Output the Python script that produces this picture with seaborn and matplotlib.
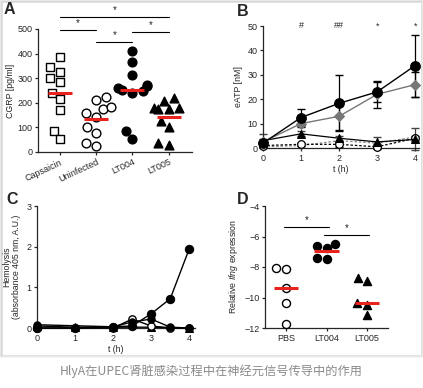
import numpy as np
import pandas as pd
import matplotlib
matplotlib.use("Agg")
import matplotlib.pyplot as plt
import seaborn as sns
from matplotlib.patches import Rectangle

# ---------------- data ----------------
# Panel A
a_groups = ["Capsaicin", "Uninfected", "LT004", "LT005"]
a_capsaicin = [385, 327, 347, 300, 283, 241, 215, 171, 87, 53]
a_uninfected = [211, 175, 184, 225, 144, 160, 79, 101, 24, 38]
a_lt004 = [412, 367, 314, 272, 268, 259, 252, 249, 241, 87, 53]
a_lt005 = [209, 218, 178, 173, 173, 180, 101, 128, 28, 35]
a_center = [241, 134, 252, 143]
a_sig = [("Capsaicin", "LT005", 549), ("Capsaicin", "Uninfected", 496),
         ("Uninfected", "LT004", 447), ("LT004", "LT005", 488)]

# Panel B
b_t = [0, 1, 2, 3, 4]
b_lt004 = [2, 12.5, 18.3, 23, 33.8]
b_lt004_err = [1, 3.3, 11.5, 4, 12.7]
b_gray = [2.5, 10, 13, 22, 26]
b_gray_err = [1, 1.5, 5.5, 5.5, 5]
b_tri = [3, 5.8, 4, 2.5, 3.5]
b_tri_err = [2.8, 1, 1, 2, 4.5]
b_open = [1, 1.5, 1.5, 0.5, 4]
b_open_err = [0.5, 0.5, 1, 1, 1]
b_dash2 = [0.5, 1, 3, 2, 4.5]
b_marks = ["", "#", "##", "*", "*"]

# Panel C
c_t = [0, 1, 2, 2.5, 3, 3.5, 4]
c_lt004 = [0, 0, 0.03, 0.05, 0.35, 0.72, 1.95]
c_other_t = [0, 2, 2.5, 3, 3.5, 4]
c_other = [0.08, 0.03, 0.15, 0.22, 0.02, 0]
c_open_t = [0, 2, 2.5, 3, 3.5, 4]
c_open = [0, 0, 0.22, 0.05, 0, 0]
c_tri_t = [0, 1, 2, 3, 4]
c_tri = [0.05, 0.02, 0.02, 0.02, 0]

# Panel D
d_groups = ["PBS", "LT004", "LT005"]
d_pbs = [-8.11, -8.07, -9.36, -10.38, -11.72]
d_lt004 = [-6.47, -6.75, -6.62, -7.50, -7.41]
d_lt005 = [-8.94, -8.72, -10.51, -10.34, -11.17]
d_center = [-9.35, -6.97, -10.34]
d_sig = [("PBS", "LT004", -5.40), ("LT004", "LT005", -5.92)]

caption = "HlyA在UPEC肾脏感染过程中在神经元信号传导中的作用"

# ---------------- style ----------------
sns.set_style("ticks")
plt.rcParams["font.family"] = ["Liberation Sans", "DejaVu Sans"]
plt.rcParams["mathtext.fontset"] = "custom"
plt.rcParams["mathtext.rm"] = "Liberation Sans"
plt.rcParams["mathtext.it"] = "Liberation Sans:italic"
plt.rcParams["axes.linewidth"] = 0.9
plt.rcParams["xtick.major.width"] = 0.9
plt.rcParams["ytick.major.width"] = 0.9
plt.rcParams["xtick.major.size"] = 2.5
plt.rcParams["ytick.major.size"] = 2.5
plt.rcParams["xtick.labelsize"] = 6.5
plt.rcParams["ytick.labelsize"] = 6.5
plt.rcParams["axes.labelsize"] = 6.3
plt.rcParams["xtick.major.pad"] = 1.5
plt.rcParams["ytick.major.pad"] = 1.5
plt.rcParams["axes.labelpad"] = 1.5

W, H = 423, 388
fig = plt.figure(figsize=(W / 100, H / 100), dpi=100)
fig.patch.set_facecolor("white")

# card with soft shadow
for i, a in enumerate([0.04, 0.05, 0.07]):
    d = 3 - i
    fig.add_artist(Rectangle(((2 - d) / W, 1 - (355 + d) / H), (419 + 2 * d) / W, (353 + 2 * d) / H,
                             transform=fig.transFigure, facecolor=(0, 0, 0, a), edgecolor="none", zorder=0))
fig.add_artist(Rectangle((2 / W, 1 - 355 / H), 419 / W, 353 / H, transform=fig.transFigure,
                         facecolor="white", edgecolor="#dddddd", linewidth=0.5, zorder=0))


def ax_at(x0, y0, x1, y1):
    """pixel box (left, top, right, bottom) -> axes"""
    return fig.add_axes([x0 / W, 1 - y1 / H, (x1 - x0) / W, (y1 - y0) / H])


# ---------------- Panel A ----------------
axA = ax_at(38, 29, 192, 152)
axA.set_facecolor("none")
dfA = pd.DataFrame({
    "group": sum([[g] * len(v) for g, v in zip(a_groups, [a_capsaicin, a_uninfected, a_lt004, a_lt005])], []),
    "value": a_capsaicin + a_uninfected + a_lt004 + a_lt005,
})
a_styles = {"Capsaicin": ("s", "white"), "Uninfected": ("o", "white"),
            "LT004": ("o", "black"), "LT005": ("^", "black")}
for g in a_groups:
    m, fc = a_styles[g]
    sns.swarmplot(data=dfA[dfA.group == g], x="group", y="value", order=a_groups, ax=axA,
                  marker=m, color=fc, edgecolor="black", linewidth=1.0, size=6.3,
                  clip_on=False, zorder=3)
for i, c in enumerate(a_center):
    axA.plot([i - 0.33, i + 0.33], [c, c], color="#e8221c", lw=2.2, zorder=4, solid_capstyle="butt")
for g1, g2, y in a_sig:
    i1, i2 = a_groups.index(g1), a_groups.index(g2)
    axA.plot([i1, i2], [y, y], color="black", lw=0.8, clip_on=False)
    axA.text((i1 + i2) / 2, y + 6, "*", ha="center", va="bottom", fontsize=7, clip_on=False)
axA.set_xlim(-0.6, 3.64)
axA.set_ylim(0, 500)
axA.set_yticks([0, 100, 200, 300, 400, 500])
axA.set_xlabel("")
axA.set_ylabel("CGRP [pg/ml]", labelpad=2)
axA.set_xticks(range(4))
axA.set_xticklabels(a_groups, rotation=25, ha="right", rotation_mode="anchor")
sns.despine(ax=axA)

# ---------------- Panel B ----------------
axB = ax_at(263, 26, 419, 148)
axB.set_facecolor("none")
ms = 4.5
axB.errorbar(b_t, b_open, yerr=b_open_err, fmt="none", ecolor="black", elinewidth=0.9, capsize=3, zorder=2)
sns.lineplot(x=b_t, y=b_dash2, ax=axB, color="#888888", lw=0.9, linestyle=(0, (2, 1.5)),
             marker="D", markersize=3, markerfacecolor="#888888", markeredgecolor="#555555", zorder=3)
sns.lineplot(x=b_t, y=b_open, ax=axB, color="black", lw=0.9, linestyle=(0, (2, 1.5)),
             marker="o", markersize=ms + 1, markerfacecolor="white", markeredgecolor="black",
             markeredgewidth=0.9, zorder=3)
axB.errorbar(b_t, b_tri, yerr=b_tri_err, fmt="none", ecolor="#444444", elinewidth=0.9, capsize=3, zorder=2)
sns.lineplot(x=b_t, y=b_tri, ax=axB, color="black", lw=0.9, marker="^", markersize=ms + 1,
             markerfacecolor="black", markeredgecolor="black", zorder=4)
axB.errorbar(b_t, b_gray, yerr=b_gray_err, fmt="none", ecolor="black", elinewidth=0.9, capsize=3, zorder=2)
sns.lineplot(x=b_t, y=b_gray, ax=axB, color="#777777", lw=1.0, marker="D", markersize=ms + 0.3,
             markerfacecolor="#777777", markeredgecolor="#777777", zorder=5)
axB.errorbar(b_t, b_lt004, yerr=b_lt004_err, fmt="none", ecolor="black", elinewidth=0.9, capsize=3, zorder=2)
sns.lineplot(x=b_t, y=b_lt004, ax=axB, color="black", lw=1.0, marker="o", markersize=ms + 2.5,
             markerfacecolor="black", markeredgecolor="black", zorder=6)
for t, s in zip(b_t, b_marks):
    if s:
        axB.text(t, 50, s, ha="center", va="center", fontsize=6.5)
for ln in axB.lines:
    ln.set_clip_on(False)
axB.set_xlim(0, 4.1)
axB.set_ylim(0, 50)
axB.set_xticks([0, 1, 2, 3, 4])
axB.set_yticks([0, 10, 20, 30, 40, 50])
axB.set_xlabel("t (h)")
axB.set_ylabel("eATP [nM]", labelpad=3)
sns.despine(ax=axB)

# ---------------- Panel C ----------------
axC = ax_at(37, 206, 195, 328)
axC.set_facecolor("none")
mc = 5.3
sns.lineplot(x=c_tri_t, y=c_tri, ax=axC, color="black", lw=1.0, marker="^", markersize=mc,
             markerfacecolor="black", markeredgecolor="black", zorder=3)
sns.lineplot(x=c_open_t, y=c_open, ax=axC, color="black", lw=1.0, marker="o", markersize=mc,
             markerfacecolor="white", markeredgecolor="black", markeredgewidth=1, zorder=3)
sns.lineplot(x=c_other_t, y=c_other, ax=axC, color="black", lw=1.0, marker="o", markersize=mc,
             markerfacecolor="black", markeredgecolor="black", zorder=4)
sns.lineplot(x=c_t, y=c_lt004, ax=axC, color="black", lw=1.0, marker="o", markersize=mc + 0.7,
             markerfacecolor="black", markeredgecolor="black", zorder=5)
for ln in axC.lines:
    ln.set_clip_on(False)
axC.set_xlim(0, 4.15)
axC.set_ylim(0, 3)
axC.set_xticks([0, 1, 2, 3, 4])
axC.set_yticks([0, 1, 2, 3])
axC.set_xlabel("t (h)")
axC.set_ylabel("Hemolysis\n(absorbance 405 nm, A.U.)", labelpad=4, linespacing=1.1)
sns.despine(ax=axC)

# ---------------- Panel D ----------------
axD = ax_at(265, 206, 388, 328)
axD.set_facecolor("none")
dfD = pd.DataFrame({
    "group": sum([[g] * len(v) for g, v in zip(d_groups, [d_pbs, d_lt004, d_lt005])], []),
    "value": d_pbs + d_lt004 + d_lt005,
})
d_styles = {"PBS": ("o", "white"), "LT004": ("o", "black"), "LT005": ("^", "black")}
for g in d_groups:
    m, fc = d_styles[g]
    sns.swarmplot(data=dfD[dfD.group == g], x="group", y="value", order=d_groups, ax=axD,
                  marker=m, color=fc, edgecolor="black", linewidth=1.0, size=5.8,
                  clip_on=False, zorder=3)
for i, c in enumerate(d_center):
    axD.plot([i - 0.3, i + 0.3], [c, c], color="#e8221c", lw=2.2, zorder=4, solid_capstyle="butt")
for g1, g2, y in d_sig:
    i1, i2 = d_groups.index(g1), d_groups.index(g2)
    axD.plot([i1 - 0.05, i2 + 0.05], [y, y], color="black", lw=0.8, clip_on=False)
    axD.text((i1 + i2) / 2, y + 0.12, "*", ha="center", va="bottom", fontsize=7)
axD.set_xlim(-0.52, 2.52)
axD.set_ylim(-12, -4)
axD.set_yticks([-4, -6, -8, -10, -12])
axD.set_xlabel("")
axD.set_ylabel(r"Relative $\mathit{Ifng}$ expression", labelpad=3)
sns.despine(ax=axD)

# panel letters
for lab, x, y in [("A", 4, 10), ("B", 237, 11), ("C", 6, 200), ("D", 237, 200)]:
    fig.text(x / W, 1 - y / H, lab, fontsize=11.5, fontweight="bold", ha="left", va="center")

fig.text(211.5 / W, 1 - 371 / H, caption, fontsize=8.8, color="#8a8a8a", ha="center", va="center",
         family=["Noto Sans CJK SC", "DejaVu Sans"])

fig.savefig("out.png", dpi=100, facecolor="white")
